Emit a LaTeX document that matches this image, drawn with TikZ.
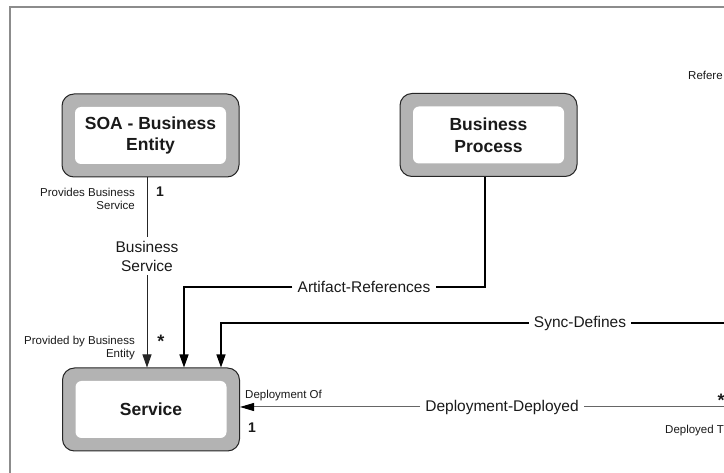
\documentclass[tikz,border=0pt]{standalone}
\usepackage{fontspec}
\setmainfont{Liberation Sans}
\usetikzlibrary{arrows.meta}
\definecolor{boxgray}{HTML}{B3B3B3}
\definecolor{framegray}{HTML}{8C8C8C}
\definecolor{ink}{HTML}{1A1A1A}
\begin{document}
\begin{tikzpicture}[x=1pt,y=-1pt,
 outerbox/.style={draw=black!85, line width=1pt, fill=boxgray, rounded corners=12pt, minimum width=177pt, minimum height=83pt, inner sep=0pt},
 innerbox/.style={fill=white, rounded corners=6pt, minimum width=151pt, minimum height=57pt, align=center, font=\fontsize{17.5}{21.5}\selectfont\bfseries, text=ink, inner sep=0pt},
 conn/.style={draw=black, line width=1.4pt},
 thinconn/.style={draw=black!85, line width=0.9pt},
 grayconn/.style={draw=black!60, line width=1pt},
 tip/.style={-{Triangle[length=13pt,width=9pt]}},
 darktip/.style={-{Triangle[length=14pt,width=8pt,black]}},
 rel/.style={fill=white, font=\fontsize{15.5}{19}\selectfont, text=ink, align=center, inner xsep=5pt, inner ysep=4pt},
 role/.style={font=\fontsize{11.5}{13}\selectfont, text=ink, align=right, inner sep=0pt},
 card/.style={font=\fontsize{14}{14}\selectfont\bfseries, text=ink, inner sep=0pt},
 star/.style={font=\fontsize{18}{18}\selectfont\bfseries, text=ink, inner sep=0pt}]
\clip (0,0) rectangle (724,473);
\fill[white] (0,0) rectangle (724,473);
\draw[framegray, line width=1.5pt] (10,480) -- (10,7) -- (730,7);

% boxes
\node[outerbox] (soa) at (150.5,135.5) {};
\node[innerbox] (soain) at (soa) {SOA - Business\\Entity};
\node[outerbox] (bp) at (488.5,135) {};
\node[innerbox] (bpin) at (bp) {Business\\Process};
\node[outerbox] (svc) at (151,409.5) {};
\node[innerbox] (svcin) at (svc) {Service};

% relation labels
\node[rel] (bs) at (147,256) {Business\\Service};
\node[rel] (art) at (364,287) {Artifact-References};
\node[rel] (sync) at (580,323) {Sync-Defines};
\node[rel] (dep) at (502,407) {Deployment-Deployed};
\coordinate (syncend) at (730,323);
\coordinate (depend) at (730,407);

% connectors
\draw[thinconn] (soa.south -| bs.north) -- (bs.north);
\draw[thinconn,tip] (bs.south) -- (bs.south |- svc.north);
\draw[conn] ([xshift=-3.5pt]bp.south) |- (art.east);
\draw[conn,tip] (art.west) -| ([xshift=33pt]svc.north);
\draw[conn] (syncend) -- (sync.east);
\draw[conn,tip] (sync.west) -| ([xshift=70pt]svc.north);
\draw[grayconn] (depend) -- (dep.east);
\draw[grayconn,darktip] (dep.west) -- (dep.west -| svc.east);

% roles and cardinalities
\node[role, anchor=north east] (r1) at (135,187.5) {Provides Business\\Service};
\node[card] (c1) at (160,192) {1};
\node[star] (c2) at (161,341) {*};
\node[role, anchor=north east] (r2) at (135,336) {Provided by Business\\Entity};
\node[role, anchor=north west] (r3) at (245,390) {Deployment Of};
\node[card] (c3) at (252,428) {1};
\node[star] (c4) at (721,400) {*};
\node[role, anchor=north west] (r4) at (665,425) {Deployed T};
\node[role, anchor=north west] (r5) at (688,71) {Refere};
\end{tikzpicture}
\end{document}
